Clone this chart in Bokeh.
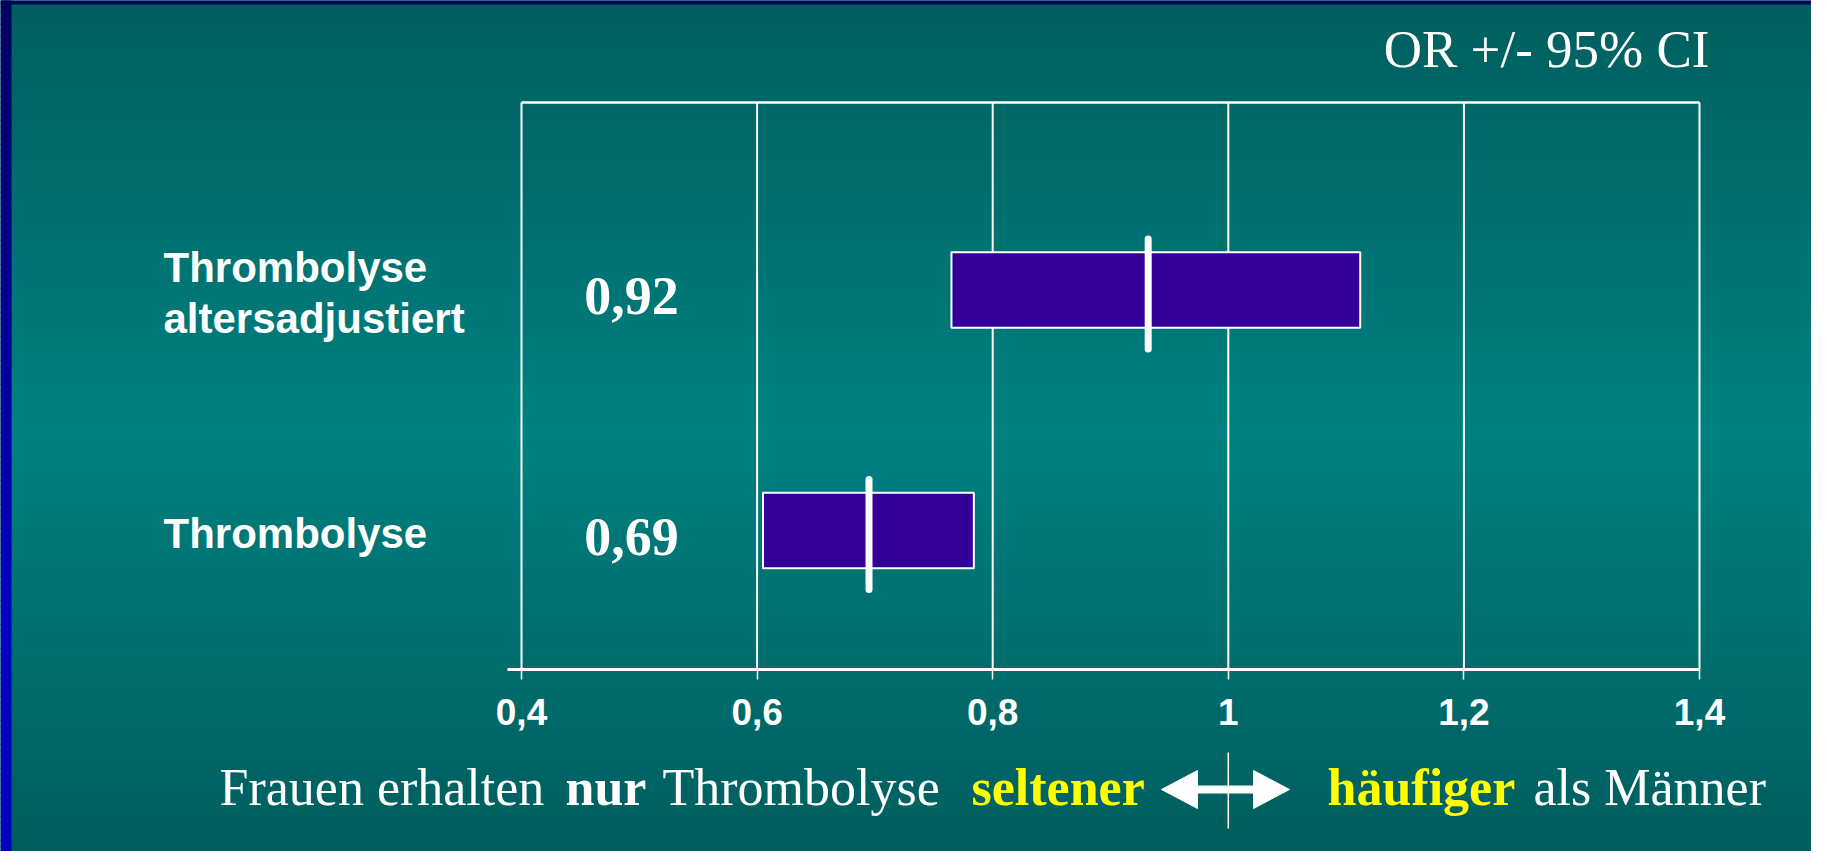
from bokeh.plotting import figure
from bokeh.models import Range1d, FixedTicker, LinearAxis
from bokeh.core.properties import value
from bokeh.embed import file_html
from bokeh.resources import INLINE

# ---------------- data ----------------
categories = ["Thrombolyse\naltersadjustiert", "Thrombolyse"]
or_labels = ["0,92", "0,69"]
or_point = [0.932, 0.695]
ci_low = [0.765, 0.605]
ci_high = [1.112, 0.784]
tick_values = [0.4, 0.6, 0.8, 1.0, 1.2, 1.4]
tick_labels = ["0,4", "0,6", "0,8", "1", "1,2", "1,4"]
title_text = "OR +/- 95% CI"
caption_words = ["Frauen erhalten", "nur", "Thrombolyse", "seltener", "häufiger", "als Männer"]

# ---------------- geometry (canvas pixels) ----------------
W, H = 1811, 851
PX_L, PX_R = 521, 1699          # canvas x of 0.4 and 1.4
PX_UNIT_Y = 240.5               # canvas px between category rows
PX_ROW1 = 530                   # canvas y of row position 1
X0, X1 = tick_values[0], tick_values[-1]


def dx(cx):
    return X0 + (cx - PX_L) * (X1 - X0) / (PX_R - PX_L)


def dy(cy):
    return 1 + (PX_ROW1 - cy) / PX_UNIT_Y


def px(v):
    return v / PX_UNIT_Y


def lerp(c0, c1, t):
    return tuple(int(round(a + (b - a) * t)) for a, b in zip(c0, c1))


def teal(ry):
    stops = [(0, (0, 94, 94)), (430, (0, 128, 128)), (867, (0, 92, 92))]
    for (y0, c0), (y1, c1) in zip(stops[:-1], stops[1:]):
        if ry <= y1:
            return "#%02x%02x%02x" % lerp(c0, c1, max(0, (ry - y0) / (y1 - y0)))
    return "#%02x%02x%02x" % stops[-1][1]


def blue(ry):
    t = min(1.0, max(0.0, ry / 600))
    return "#%02x%02x%02x" % lerp((0, 0, 96), (0, 0, 192), t)


n = len(categories)
ypos = [n - i for i in range(n)]
y_top, y_bot = dy(102), dy(669)

p = figure(width=W, height=H, x_range=Range1d(dx(0), dx(W)), y_range=Range1d(dy(H), dy(0)),
           output_backend="svg", toolbar_location=None,
           x_axis_location=None, y_axis_location=None,
           min_border_left=0, min_border_right=0, min_border_top=0, min_border_bottom=0)
p.outline_line_color = None
p.background_fill_color = "#006e6e"
p.border_fill_color = "#006e6e"
for g in p.grid:
    g.visible = False

# ---------- background gradient ----------
step = 6
bands = list(range(0, H, step))
p.quad(left=[dx(0)] * len(bands), right=[dx(W)] * len(bands),
       top=[dy(c - 0.5) for c in bands], bottom=[dy(c + step + 0.5) for c in bands],
       fill_color=[teal(c + step / 2) for c in bands], line_color=None)
p.quad(left=[dx(0)] * len(bands), right=[dx(11)] * len(bands),
       top=[dy(c - 0.5) for c in bands], bottom=[dy(c + step + 0.5) for c in bands],
       fill_color=[blue(c + step / 2) for c in bands], line_color=None)
p.quad(left=[dx(0)], right=[dx(W)], top=[dy(0)], bottom=[dy(4)],
       fill_color="#00005a", line_color=None)

# ---------- plot box: vertical grid lines + top border ----------
p.segment(x0=tick_values, x1=tick_values, y0=[y_bot] * len(tick_values), y1=[y_top] * len(tick_values),
          line_color="white", line_width=2)
p.segment(x0=[X0], x1=[X1], y0=[y_top], y1=[y_top], line_color="white", line_width=2.5)

# ---------- x axis ----------
ax = LinearAxis(fixed_location=y_bot, bounds=(dx(507), X1), ticker=FixedTicker(ticks=tick_values))
overrides = {}
for v, lab in zip(tick_values, tick_labels):
    overrides[v] = lab
    overrides["%g" % v] = lab
ax.major_label_overrides = overrides
ax.axis_line_color = "white"
ax.axis_line_width = 3
ax.major_tick_line_color = "white"
ax.major_tick_line_width = 1.5
ax.major_tick_in = 0
ax.major_tick_out = 10
ax.minor_tick_line_color = None
ax.major_label_text_color = "white"
ax.major_label_text_font = "Liberation Sans"
ax.major_label_text_font_size = "37px"
ax.major_label_text_font_style = "bold"
ax.major_label_standoff = 19
p.add_layout(ax, "below")

# ---------- bars ----------
p.hbar(y=ypos, left=ci_low, right=ci_high, height=px(75.5),
       fill_color="#330099", line_color="white", line_width=2)
half = px(55)
p.segment(x0=or_point, x1=or_point, y0=[y - half - px(4) for y in ypos],
          y1=[y + half - px(4) for y in ypos],
          line_color="white", line_width=7, line_cap="round")

# ---------- OR value labels ----------
label_x = dx(631)
p.text(x=[label_x] * n, y=ypos, text=or_labels, y_offset=6,
       text_font=value("Liberation Serif"), text_font_style="bold", text_font_size="54px",
       text_color="white", text_align="center", text_baseline="middle")

# ---------- category labels ----------
p.text(x=[dx(163)] * n, y=[y - px(3) for y in ypos], text=categories,
       text_font=value("Liberation Sans"), text_font_style="bold", text_font_size="42px",
       text_color="white", text_align="left", text_baseline="middle", text_line_height=1.066)

# ---------- title ----------
p.text(x=[dx(1709)], y=[dy(48)], text=[title_text], text_font=value("Liberation Serif"),
       text_font_size="53px", text_color="white", text_align="right", text_baseline="middle")

# ---------- caption ----------
cap_x = [219, 565, 662, 971, 1327, 1533]
cap_style = ["normal", "bold", "normal", "bold", "bold", "normal"]
cap_col = ["white", "white", "white", "#ffff00", "#ffff00", "white"]
p.text(x=[dx(c) for c in cap_x], y=[dy(787)] * len(cap_x), text=caption_words,
       text_font=value("Liberation Serif"), text_font_size="52px", text_font_style=cap_style,
       text_color=cap_col, text_align="left", text_baseline="middle")

# ---------- double arrow and divider under 1 ----------
ay = dy(789)
hh = px(19)
tipL, tipR, hl = 1161, 1289, 36
p.segment(x0=[dx(tipL + hl - 2)], x1=[dx(tipR - hl + 2)], y0=[ay], y1=[ay],
          line_color="white", line_width=8)
p.patches(xs=[[dx(tipL), dx(tipL + hl), dx(tipL + hl)], [dx(tipR), dx(tipR - hl), dx(tipR - hl)]],
          ys=[[ay, ay + hh, ay - hh], [ay, ay + hh, ay - hh]],
          fill_color="white", line_color="white", line_width=1)
p.segment(x0=[1.0], x1=[1.0], y0=[dy(752)], y1=[dy(828)], line_color="white", line_width=1.5)

open("out.html", "w").write(file_html(p, INLINE))
